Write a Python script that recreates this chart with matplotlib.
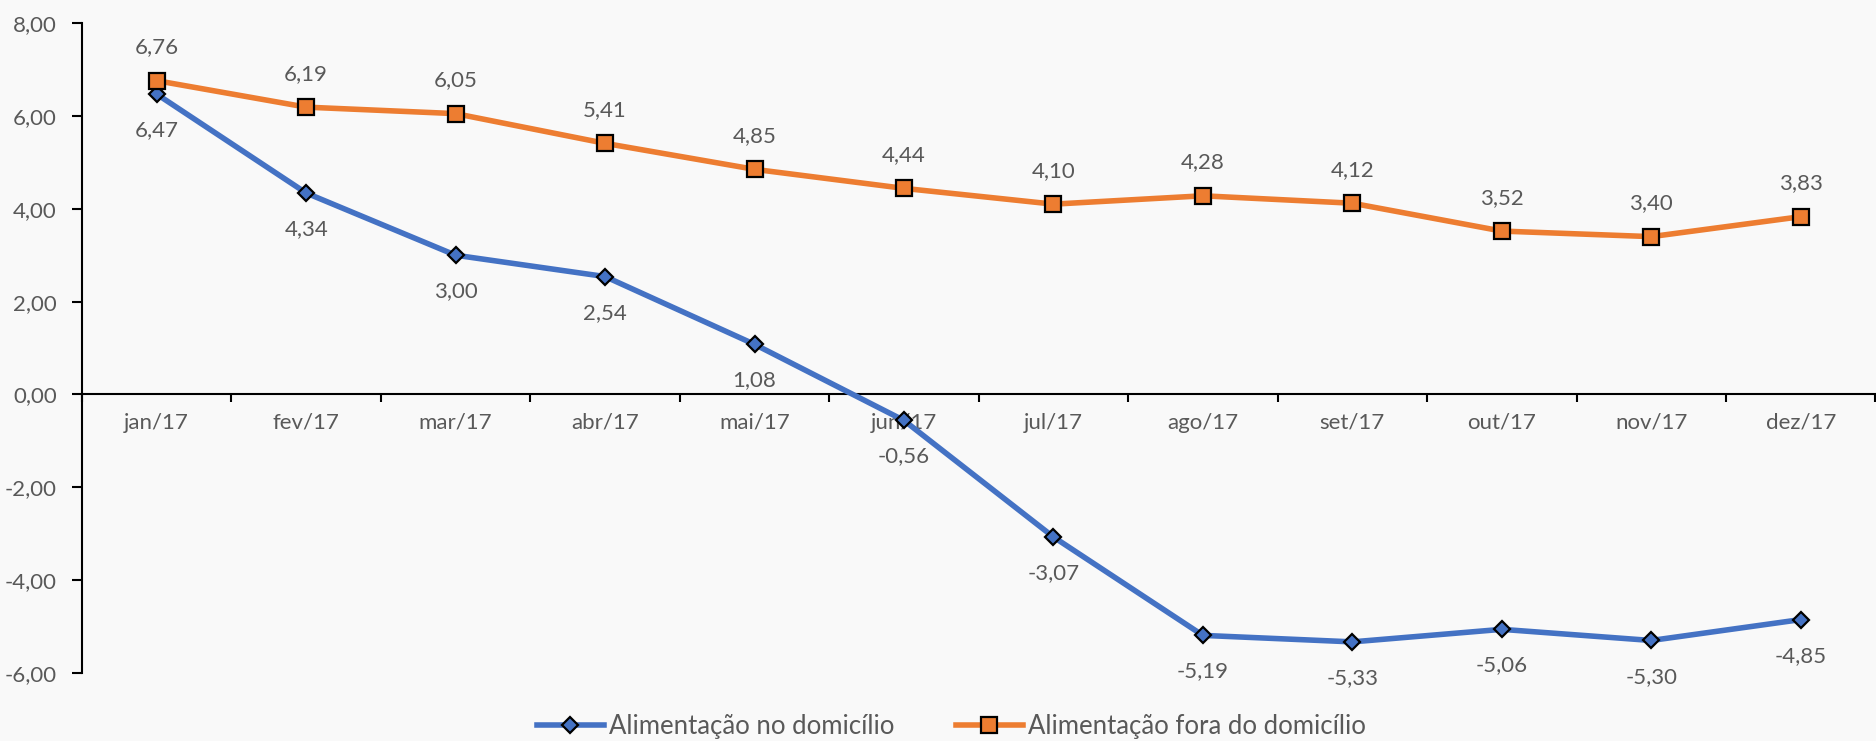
import matplotlib
matplotlib.use("Agg")
import matplotlib.pyplot as plt
import numpy as np
from matplotlib.ticker import FixedLocator, FuncFormatter

meses = ["jan/17", "fev/17", "mar/17", "abr/17", "mai/17", "jun/17",
         "jul/17", "ago/17", "set/17", "out/17", "nov/17", "dez/17"]
no_domicilio = [6.47, 4.34, 3.00, 2.54, 1.08, -0.56, -3.07, -5.19, -5.33, -5.06, -5.30, -4.85]
fora_domicilio = [6.76, 6.19, 6.05, 5.41, 4.85, 4.44, 4.10, 4.28, 4.12, 3.52, 3.40, 3.83]

plt.rcParams['font.family'] = ['Lato', 'DejaVu Sans']
cinza = '#595959'
bg = '#f9f9f9'

fig = plt.figure(figsize=(18.76, 7.41), dpi=100, facecolor=bg)
ax = fig.add_axes([0.0437, 0.0918, 0.956, 0.877], facecolor=bg)

x = np.arange(len(meses))
ax.plot(x, no_domicilio, color='#4472C4', lw=4, marker='D', ms=8.5,
        mfc='#4472C4', mec='black', mew=1.6, label='Alimentação no domicílio', zorder=3)
ax.plot(x, fora_domicilio, color='#ED7D31', lw=4, marker='s', ms=11.5,
        mfc='#ED7D31', mec='black', mew=1.6, label='Alimentação fora do domicílio', zorder=3)

fmt = lambda v: f"{v:.2f}".replace('.', ',')
for xi, v in zip(x, no_domicilio):
    ax.annotate(fmt(v), (xi, v), xytext=(0, -26), textcoords='offset points',
                ha='center', va='center', fontsize=16, color=cinza)
for xi, v in zip(x, fora_domicilio):
    ax.annotate(fmt(v), (xi, v), xytext=(0, 24), textcoords='offset points',
                ha='center', va='center', fontsize=16, color=cinza)

ax.set_xlim(-0.5, len(meses) - 0.5)
ax.set_ylim(-6, 8)
ax.set_yticks(np.arange(-6, 8.1, 2))
ax.yaxis.set_major_formatter(FuncFormatter(lambda v, p: fmt(v)))

ax.xaxis.set_major_locator(FixedLocator(np.arange(-0.5, len(meses), 1.0)))
ax.xaxis.set_major_formatter(FuncFormatter(lambda v, p: ''))
ax.xaxis.set_minor_locator(FixedLocator(x))
ax.set_xticklabels(meses, minor=True)
ax.tick_params(axis='x', which='major', direction='out', length=6, width=1.5, color='black')
ax.tick_params(axis='x', which='minor', length=0, pad=13, labelsize=16, labelcolor=cinza)
ax.tick_params(axis='y', direction='out', length=7, width=1.5, labelsize=16,
               labelcolor=cinza, pad=11)

ax.spines['bottom'].set_position(('data', 0))
ax.spines['bottom'].set_linewidth(1.5)
ax.spines['left'].set_linewidth(1.5)
ax.spines['top'].set_visible(False)
ax.spines['right'].set_visible(False)

fig.legend(loc='center', bbox_to_anchor=(0.507, 0.019), ncol=2, frameon=False,
           fontsize=18.5, labelcolor=cinza, handlelength=2.6, columnspacing=2.4,
           handletextpad=0.2)

fig.savefig('out.png', dpi=100, facecolor=bg)
